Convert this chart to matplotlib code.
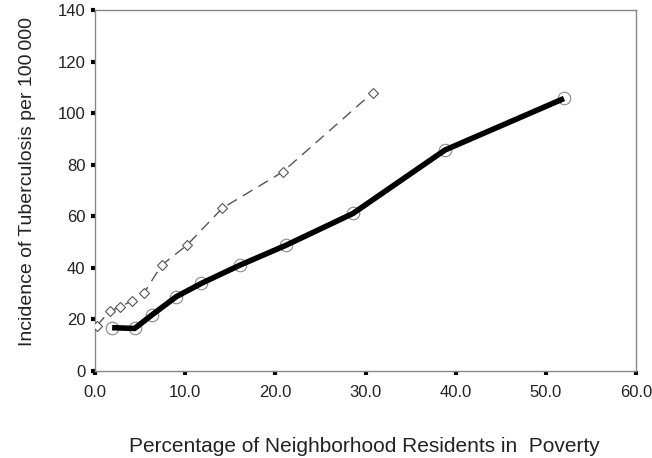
import matplotlib
matplotlib.use("Agg")
import matplotlib.pyplot as plt

plt.rcParams['font.family'] = ['Liberation Sans', 'DejaVu Sans']

# Dashed series (diamonds)
dash_x = [0.2, 1.65, 2.8, 4.1, 5.4, 7.4, 10.2, 14.1, 20.8, 30.8]
dash_y = [17.6, 23.2, 24.9, 27.2, 30.1, 41.1, 48.8, 63.1, 77.2, 108.0]

# Solid series (circles)
solid_x = [1.9, 4.4, 6.3, 9.0, 11.8, 16.1, 21.2, 28.6, 38.8, 52.0]
solid_y = [16.8, 16.5, 21.7, 28.8, 34.0, 41.1, 48.8, 61.1, 85.7, 105.7]

xticks = [0, 10, 20, 30, 40, 50, 60]
xticklabels = ["0.0", "10.0", "20.0", "30.0", "40.0", "50.0", "60.0"]
yticks = [0, 20, 40, 60, 80, 100, 120, 140]

fig = plt.figure(figsize=(6.52, 4.58), dpi=100)
ax = fig.add_axes([0.1457, 0.19, 0.83, 0.788])

ax.plot(dash_x, dash_y, color='#555555', lw=1.0, dashes=(8, 5),
        marker='D', markersize=5, markerfacecolor='white',
        markeredgecolor='#555555', markeredgewidth=0.8, zorder=3)
ax.plot(solid_x, solid_y, color='black', lw=4.0, solid_capstyle='butt', zorder=2)
ax.plot(solid_x, solid_y, linestyle='none', marker='o', markersize=9,
        markerfacecolor='none', markeredgecolor='#888888', markeredgewidth=0.8, zorder=1)

ax.set_xlim(0, 60)
ax.set_ylim(0, 140)
ax.set_xticks(xticks)
ax.set_xticklabels(xticklabels)
ax.set_yticks(yticks)

for s in ax.spines.values():
    s.set_color('#888888')
    s.set_linewidth(1.0)

ax.tick_params(direction='out', length=3, width=3, color='black', labelsize=12,
               labelcolor='#222222', pad=4)
ax.tick_params(axis='x', pad=7)

ax.set_xlabel('Percentage of Neighborhood Residents in  Poverty', fontsize=15,
              color='#222222', va='center')
ax.set_ylabel('Incidence of Tuberculosis per 100\u2009000', fontsize=14,
              color='#222222', va='center')
ax.xaxis.set_label_coords(0.498, -0.2105)
ax.yaxis.set_label_coords(-0.124, 0.524)

fig.savefig('out.png', dpi=100)
